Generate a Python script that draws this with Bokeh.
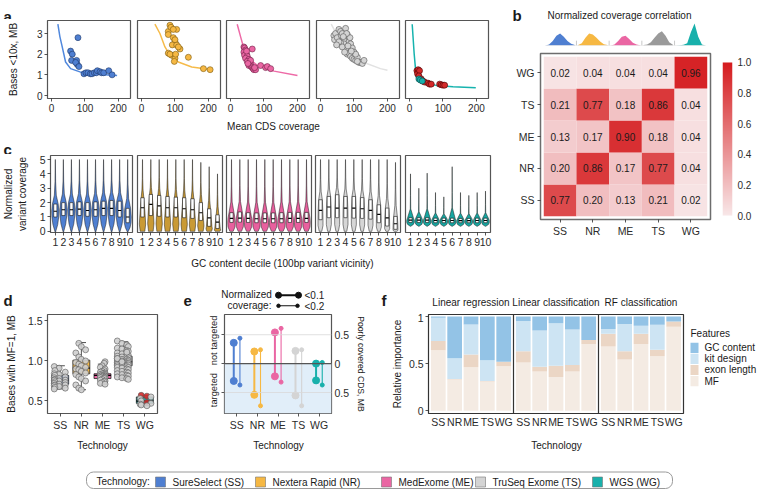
import numpy as np
from bokeh.plotting import figure
from bokeh.models import (Range1d, FixedTicker, LinearAxis, Span,
                          LinearColorMapper, ColumnDataSource)
from bokeh.layouts import row, column
from bokeh.embed import file_html
from bokeh.resources import INLINE
from bokeh.core.properties import value

FONT = "Liberation Sans"
TXT = "#1a1a1a"
AXC = "#2b2b2b"
FRAMEC = "#555555"
NB = "\u00a0"
LETTER = "15px"

# ---------------- shared categories ----------------
TECHS = ["SS", "NR", "ME", "TS", "WG"]
TECH_NAMES = ["SureSelect (SS)", "Nextera Rapid (NR)", "MedExome (ME)",
              "TruSeq Exome (TS)", "WGS (WG)"]
TECH_COLORS = ["#4f7fd1", "#f6b843", "#ea66a3", "#d4d4d4", "#18b0ab"]

# ---------------- panel a: bases <10x vs mean CDS coverage ----------------
a_ss_x = [57, 62, 60, 75, 77, 79, 72, 82, 97, 103, 109, 116, 121, 128, 134, 137, 145, 150, 156, 171, 181]
a_ss_y = [2.15, 2.0, 1.7, 1.7, 1.5, 2.8, 1.6, 1.4, 1.05, 1.1, 1.1, 1.05, 1.05, 1.1, 1.1, 1.2, 1.15, 1.1, 1.1, 1.2, 1.0]
a_ss_fit_x = [19, 25, 32, 42, 57, 87, 146, 196]
a_ss_fit_y = [3.45, 2.85, 2.35, 1.62, 1.3, 1.13, 1.02, 0.97]

a_nr_x = [85, 90, 80, 105, 80, 95, 100, 92, 105, 115, 80, 90, 100, 98, 140, 185, 205, 88, 95, 100, 110, 85, 102]
a_nr_y = [3.4, 3.25, 3.1, 3.2, 2.95, 2.8, 2.6, 2.45, 2.45, 2.25, 2.05, 1.95, 1.8, 1.65, 1.85, 1.3, 1.25, 3.3, 3.2, 2.7, 2.35, 2.0, 2.0]
a_nr_fit_x = [40, 55, 70, 85, 110, 150, 210]
a_nr_fit_y = [3.45, 3.0, 2.35, 1.95, 1.62, 1.38, 1.25]

a_me_x = [40, 42, 45, 40, 48, 42, 50, 45, 55, 50, 58, 60, 55, 62, 65, 68, 70, 75, 65, 90, 105, 110, 120, 60, 48, 52, 72]
a_me_y = [2.35, 2.3, 2.2, 2.1, 2.0, 1.95, 1.9, 1.8, 1.75, 1.65, 1.6, 1.5, 1.45, 1.4, 1.35, 1.3, 1.25, 1.25, 2.25, 1.45, 1.35, 1.4, 1.3, 1.7, 2.15, 1.55, 1.35]
a_me_fit_x = [20, 30, 40, 55, 80, 130, 200]
a_me_fit_y = [3.45, 2.85, 2.27, 1.78, 1.46, 1.18, 0.97]

a_ts_x = [40, 42, 45, 50, 55, 60, 62, 65, 70, 75, 80, 85, 90, 95, 70, 60, 75, 80, 85, 90, 95, 100, 105, 110,
          115, 120, 125, 65, 72, 100, 82, 88, 55, 48, 110, 130, 105, 92, 78, 68]
a_ts_y = [2.9, 2.7, 3.0, 2.8, 3.2, 3.1, 2.9, 3.0, 2.7, 3.25, 2.95, 2.6, 2.5, 2.3, 2.5, 2.55, 2.2, 2.0, 2.05, 1.9,
          1.8, 1.75, 1.7, 1.85, 1.6, 1.6, 1.55, 2.35, 2.1, 2.1, 2.4, 2.8, 2.6, 2.45, 1.65, 1.7, 2.0, 2.15, 3.0, 2.85]
a_ts_fit_x = [32, 52, 84, 126, 179, 200]
a_ts_fit_y = [3.45, 2.85, 2.2, 1.62, 1.3, 1.22]

a_wg_x = [22, 26, 24, 30, 28, 35, 40, 45, 55, 60, 65, 90, 95, 100, 105]
a_wg_y = [1.2, 1.25, 1.05, 1.2, 0.95, 0.8, 0.7, 0.65, 0.6, 0.55, 0.55, 0.55, 0.52, 0.5, 0.5]
a_wg_teal_x = [28, 32, 38]
a_wg_teal_y = [0.8, 0.75, 0.7]
a_wg_fit_x = [8, 14, 20, 30, 50, 80, 130, 198]
a_wg_fit_y = [3.45, 2.0, 0.9, 0.7, 0.58, 0.49, 0.42, 0.37]

# ---------------- panel b: correlation matrix ----------------
b_corr = [  # rows SS, NR, ME, TS, WG ; columns SS, NR, ME, TS, WG
    [0.77, 0.20, 0.13, 0.21, 0.02],
    [0.20, 0.86, 0.17, 0.77, 0.04],
    [0.13, 0.17, 0.90, 0.18, 0.04],
    [0.21, 0.77, 0.18, 0.86, 0.04],
    [0.02, 0.04, 0.04, 0.04, 0.96],
]
b_dens_ss = [0.0, 0.05, 0.2, 0.45, 0.55, 0.4, 0.2, 0.08, 0.02]
b_dens_nr = [0.02, 0.1, 0.35, 0.55, 0.5, 0.35, 0.18, 0.06, 0.02]
b_dens_me = [0.0, 0.05, 0.2, 0.4, 0.45, 0.3, 0.12, 0.04, 0.01]
b_dens_ts = [0.02, 0.05, 0.15, 0.35, 0.55, 0.65, 0.45, 0.15, 0.03]
b_dens_wg = [0.0, 0.01, 0.03, 0.1, 0.6, 1.0, 0.4, 0.05, 0.0]
b_ticks = [0.0, 0.2, 0.4, 0.6, 0.8, 1.0]

# ---------------- panel c: violins per GC decile ----------------
c_deciles = list(range(1, 11))
c_median = [
    [1.4, 1.5, 1.5, 1.55, 1.45, 1.5, 1.6, 1.6, 1.45, 1.0],
    [1.64, 1.88, 1.77, 1.64, 1.64, 1.57, 1.5, 1.29, 0.94, 0.64],
    [0.9, 0.92, 0.9, 0.88, 0.88, 0.88, 0.88, 0.9, 0.9, 0.9],
    [1.46, 1.69, 1.62, 1.62, 1.62, 1.57, 1.46, 1.18, 0.94, 0.53],
    [0.78, 0.78, 0.78, 0.76, 0.76, 0.76, 0.75, 0.75, 0.76, 0.76],
]
c_q1 = [
    [1.0, 1.1, 1.1, 1.1, 1.05, 1.05, 1.1, 1.1, 1.0, 0.6],
    [1.0, 1.1, 1.05, 1.0, 1.0, 0.95, 0.9, 0.76, 0.35, 0.2],
    [0.62, 0.64, 0.62, 0.6, 0.6, 0.6, 0.6, 0.62, 0.62, 0.62],
    [0.81, 0.95, 0.95, 0.95, 0.92, 0.9, 0.85, 0.6, 0.37, 0.14],
    [0.62, 0.62, 0.62, 0.6, 0.6, 0.6, 0.6, 0.6, 0.6, 0.6],
]
c_q3 = [
    [1.9, 2.0, 2.0, 2.05, 2.0, 2.05, 2.1, 2.15, 2.1, 1.6],
    [2.34, 2.57, 2.5, 2.43, 2.38, 2.34, 2.27, 2.0, 1.57, 1.15],
    [1.3, 1.35, 1.3, 1.28, 1.28, 1.28, 1.3, 1.32, 1.32, 1.32],
    [2.2, 2.43, 2.55, 2.43, 2.43, 2.35, 2.2, 1.85, 1.62, 1.04],
    [0.95, 0.95, 0.95, 0.92, 0.92, 0.92, 0.9, 0.9, 0.92, 0.92],
]
c_top = [
    [5.0, 5.0, 5.0, 5.0, 5.0, 5.0, 5.0, 5.0, 5.0, 5.0],
    [5.0, 5.0, 5.0, 5.0, 5.0, 5.0, 5.0, 4.8, 4.5, 4.0],
    [5.0, 5.0, 5.0, 5.0, 5.0, 5.0, 5.0, 5.0, 5.0, 5.0],
    [5.0, 5.0, 5.0, 5.0, 5.0, 5.0, 5.0, 5.0, 5.0, 4.8],
    [4.0, 3.0, 4.05, 2.7, 2.4, 4.5, 2.7, 2.5, 2.7, 2.8],
]
c_bottom = [-0.05, 0.0, 0.0, 0.0, 0.35]
# violin half-widths at: bottom, mid, q1, median, q3, upper1, upper2, top
c_shape = [
    [0.03, 0.3, 0.42, 0.45, 0.36, 0.12, 0.04, 0.005],
    [0.28, 0.38, 0.33, 0.25, 0.16, 0.07, 0.025, 0.005],
    [0.2, 0.42, 0.45, 0.42, 0.3, 0.08, 0.03, 0.005],
    [0.15, 0.3, 0.3, 0.28, 0.22, 0.08, 0.03, 0.005],
    [0.03, 0.35, 0.45, 0.45, 0.35, 0.03, 0.012, 0.004],
]
c_fill = ["#4f7fd1", "#c99a35", "#e8609e", "#d6d6d6", "#17a6a1"]

# ---------------- panel d: bases with MF=1 ----------------
d_ss = [0.93, 0.91, 0.88, 0.86, 0.84, 0.83, 0.82, 0.8, 0.79, 0.78, 0.77, 0.76, 0.76, 0.75, 0.74, 0.73,
        0.72, 0.71, 0.7, 0.7, 0.69, 0.68, 0.67, 0.66, 0.65]
d_nr = [1.22, 1.18, 1.14, 1.1, 1.05, 1.02, 1.0, 0.98, 0.96, 0.94, 0.92, 0.9, 0.89, 0.87, 0.85, 0.83,
        0.8, 0.78, 0.75, 0.7, 0.66, 0.64]
d_me = [0.99, 0.97, 0.94, 0.92, 0.9, 0.88, 0.87, 0.86, 0.85, 0.84, 0.84, 0.83, 0.83, 0.82, 0.82, 0.81,
        0.81, 0.8, 0.8, 0.79, 0.79, 0.78, 0.77, 0.76, 0.75, 0.74, 0.73, 0.72, 0.71]
d_ts = [1.25, 1.22, 1.2, 1.18, 1.16, 1.15, 1.13, 1.12, 1.1, 1.09, 1.08, 1.07, 1.06, 1.05, 1.05, 1.04,
        1.03, 1.02, 1.02, 1.01, 1.0, 1.0, 0.99, 0.99, 0.98, 0.98, 0.97, 0.97, 0.96, 0.96, 0.95, 0.95,
        0.94, 0.94, 0.93, 0.92, 0.92, 0.91, 0.9, 0.89, 0.88, 0.87, 0.86, 0.85, 0.84, 0.83, 0.82, 0.81,
        0.8, 0.79, 0.78, 0.77, 1.03, 0.99, 1.11]
d_wg = [0.57, 0.56, 0.55, 0.53, 0.5, 0.48, 0.47, 0.46, 0.45, 0.44]
d_wg_red = [True, True, False, False, False, True, False, False, False, False]
d_q1 = [0.71, 0.84, 0.78, 0.94, 0.47]
d_med = [0.76, 0.91, 0.82, 0.99, 0.50]
d_q3 = [0.82, 1.01, 0.84, 1.06, 0.55]
d_lo = [0.65, 0.64, 0.71, 0.78, 0.44]
d_hi = [0.94, 1.23, 0.96, 1.24, 0.57]
JITTER = [-0.28, 0.05, 0.22, -0.12, 0.3, -0.22, 0.12, -0.05, 0.26, -0.3, 0.0, 0.17, -0.17, 0.08,
          -0.25, 0.28, -0.08, 0.2, -0.2, 0.1, -0.02, 0.24, -0.14, 0.15, -0.26, 0.03, 0.29, -0.1]

# ---------------- panel e: poorly covered CDS ----------------
e_nottarg_01 = [0.36, 0.21, 0.54, 0.22, 0.0]
e_targ_01 = [0.30, 0.54, 0.22, 0.55, 0.29]
e_nottarg_02 = [0.44, 0.24, 0.61, 0.24, 0.02]
e_targ_02 = [0.37, 0.73, 0.32, 0.73, 0.37]

# ---------------- panel f: feature importance ----------------
f_models = ["Linear regression", "Linear classification", "RF classification"]
f_features = ["GC content", "kit design", "exon length", "MF"]
f_feat_colors = ["#93c3e6", "#cde4f3", "#ebd6c5", "#f4ebe3"]
f_mf = [0.64, 0.33, 0.46, 0.31, 0.47, 0.51, 0.415, 0.357, 0.415, 0.707, 0.68, 0.544, 0.707, 0.578, 0.89]
f_exon = [0.10, 0.005, 0.135, 0.005, 0.05, 0.12, 0.05, 0.12, 0.07, 0.043, 0.135, 0.086, 0.11, 0.068, 0.056]
f_kit = [0.245, 0.22, 0.32, 0.22, 0.0, 0.32, 0.385, 0.45, 0.375, 0.0, 0.05, 0.288, 0.083, 0.264, 0.0]
f_gc = [0.015, 0.445, 0.085, 0.465, 0.48, 0.05, 0.15, 0.073, 0.14, 0.25, 0.135, 0.082, 0.10, 0.09, 0.054]


# =============== helpers ===============
def mkfig(X0, Y0, W, H, FX, FY, FW, FH, xr, yr, outline=FRAMEC, ow=1.2):
    L = FX - X0
    T = FY - Y0
    p = figure(width=W, height=H, x_range=Range1d(*xr), y_range=Range1d(*yr),
               output_backend="svg", toolbar_location=None, tools="",
               x_axis_location=None, y_axis_location=None,
               min_border_left=L, min_border_top=T,
               min_border_right=W - L - FW, min_border_bottom=H - T - FH)
    p.grid.visible = False
    p.outline_line_color = outline
    p.outline_line_width = ow
    p.border_fill_color = "white"
    p.background_fill_color = "white"
    return p


def textfig(X0, Y0, W, H, L=0, T=0, R=0, B=0):
    # a figure whose data coordinates are page pixels (y negated)
    p = figure(width=W, height=H, x_range=Range1d(X0 + L, X0 + W - R),
               y_range=Range1d(-(Y0 + H - B), -(Y0 + T)),
               output_backend="svg", toolbar_location=None, tools="",
               x_axis_location=None, y_axis_location=None,
               min_border_left=L, min_border_right=R, min_border_top=T, min_border_bottom=B)
    p.grid.visible = False
    p.outline_line_color = None
    p.border_fill_color = "white"
    p.background_fill_color = "white"
    return p


def tx(p, X, Y, text, size="10px", bold=False, align="left", baseline="middle", color=TXT):
    p.text(x=[X], y=[-Y], text=[text], text_font=value(FONT), text_font_size=value(size),
           text_font_style=value("bold" if bold else "normal"), text_align=value(align),
           text_baseline=value(baseline), text_color=color)


def axis(p, loc, ticks, labels, size="10px", out=3, standoff=2, label=None, lstand=5, lsize="10px"):
    ticks = list(ticks)
    ax = LinearAxis(ticker=FixedTicker(ticks=ticks))
    ax.axis_line_color = None
    ax.major_tick_out = out
    ax.major_tick_in = 0
    ax.minor_tick_out = 0
    ax.minor_tick_in = 0
    ax.major_tick_line_color = AXC if out > 0 else None
    ax.major_tick_line_width = 0.8
    ax.major_label_standoff = standoff
    ax.major_label_text_font = FONT
    ax.major_label_text_font_size = size
    ax.major_label_text_color = AXC
    ax.major_label_overrides = {t: l for t, l in zip(ticks, labels)}
    if label is not None:
        ax.axis_label = label
        ax.axis_label_text_font = FONT
        ax.axis_label_text_font_size = lsize
        ax.axis_label_text_font_style = "normal"
        ax.axis_label_text_color = TXT
        ax.axis_label_standoff = lstand
    p.add_layout(ax, loc)
    return ax


def heat_color(v):
    lo = (248, 231, 232)
    hi = (213, 27, 30)
    return "#%02x%02x%02x" % tuple(int(round(l + (h - l) * v)) for l, h in zip(lo, hi))


# =============== top-left strips ===============
strip0 = textfig(0, 0, 500, 19)
tx(strip0, 3, 15.5, "a", size=LETTER, bold=True, baseline="alphabetic")

strip_a = textfig(0, 116, 500, 38)
tx(strip_a, 273, 126, "Mean CDS coverage", align="center")
tx(strip_a, 3, 149, "c", size=LETTER, bold=True, baseline="alphabetic")

strip_c = textfig(0, 252, 500, 33)
tx(strip_c, 282, 263, "GC content decile (100bp variant vicinity)", align="center")

# =============== panel a ===============
A_FIGX = [0, 133, 223, 312, 402, 500]
A_FX = [47, 137, 226, 316, 405]
a_pts = [(a_ss_x, a_ss_y), (a_nr_x, a_nr_y), (a_me_x, a_me_y), (a_ts_x, a_ts_y), (a_wg_x, a_wg_y)]
a_fit = [(a_ss_fit_x, a_ss_fit_y), (a_nr_fit_x, a_nr_fit_y), (a_me_fit_x, a_me_fit_y),
         (a_ts_fit_x, a_ts_fit_y), (a_wg_fit_x, a_wg_fit_y)]
a_pt_fill = ["#4f7fd1", "#f6b843", "#ea66a3", "#d4d4d4", "#d42a2a"]
a_pt_line = ["#1d3566", "#7a5a12", "#6e1f45", "#555555", "#4a0000"]
a_fit_col = ["#5088dd", "#f6bb4a", "#ee6aa7", "#e2e2e2", "#16b3ae"]

a_figs = []
for i in range(5):
    p = mkfig(A_FIGX[i], 19, A_FIGX[i + 1] - A_FIGX[i], 97, A_FX[i], 20, 83, 78, (-12, 236), (-0.145, 3.63))
    p.line(a_fit[i][0], a_fit[i][1], line_color=a_fit_col[i], line_width=1.5)
    p.scatter(a_pts[i][0], a_pts[i][1], size=6, fill_color=a_pt_fill[i], line_color=a_pt_line[i], line_width=0.6)
    if i == 4:
        p.scatter(a_wg_teal_x, a_wg_teal_y, size=6, fill_color="#18b0ab", line_color="#0b4d4b", line_width=0.6)
    axis(p, "below", [0, 100, 200], ["0", "100", "200"])
    if i == 0:
        axis(p, "left", [0, 1, 2, 3], ["0", "1", "2", "3"], label="Bases <10x, MB", lstand=15)
    a_figs.append(p)

# =============== panel c ===============
C_FIGX = [0, 134, 224, 313, 402, 500]
C_FX = [47, 137, 226, 315, 405]
c_figs = []
for i in range(5):
    p = mkfig(C_FIGX[i], 154, C_FIGX[i + 1] - C_FIGX[i], 98, C_FX[i], 155, 85, 77, (0.4, 10.6), (-0.08, 5.28))
    xs_all, ys_all = [], []
    for j, d in enumerate(c_deciles):
        bot, q1, md, q3, top = c_bottom[i], c_q1[i][j], c_median[i][j], c_q3[i][j], c_top[i][j]
        kn = [bot, (bot + q1) / 2, q1, md, q3, q3 + 0.2 * (top - q3), q3 + 0.5 * (top - q3), top]
        w = c_shape[i]
        xs_all.append([d + v for v in w] + [d - v for v in w[::-1]])
        ys_all.append(kn + kn[::-1])
    p.patches(xs_all, ys_all, fill_color=c_fill[i], line_color="#1a1a1a", line_width=0.5)
    cx = np.array(c_deciles, dtype=float)
    p.quad(left=cx - 0.2, right=cx + 0.2, bottom=c_q1[i], top=c_q3[i], fill_color="white",
           line_color="#111111", line_width=0.6)
    p.segment(cx - 0.2, c_median[i], cx + 0.2, c_median[i], line_color="#000000", line_width=1.1)
    axis(p, "below", c_deciles, [str(d) for d in c_deciles], size="10.5px")
    if i == 0:
        axis(p, "left", [0, 1, 2, 3, 4, 5], ["0", "1", "2", "3", "4", "5"], size="10.5px",
             label="Normalized\nvariant coverage", lstand=9)
    c_figs.append(p)

# =============== panel b ===============
strip_b = textfig(500, 0, 258, 21)
tx(strip_b, 512, 15, "b", size=LETTER, bold=True, baseline="alphabetic")
tx(strip_b, 619, 15, "Normalized coverage correlation", align="center")

# density strip: frame spans the full width; x range chosen so columns sit over the heatmap
dens = mkfig(500, 21, 258, 29, 500, 22, 258, 23, (-0.8236, 7.0683), (0, 1.05), outline=None)
dens_cols = ["#4f7fd1", "#f6b843", "#ea66a3", "#9a9a9a", "#18b0ab"]
for i, dv in enumerate([b_dens_ss, b_dens_nr, b_dens_me, b_dens_ts, b_dens_wg]):
    xs = list(np.linspace(i + 0.55, i + 1.45, len(dv)))
    dens.patch(xs + [xs[-1], xs[0]], list(dv) + [0, 0], fill_color=dens_cols[i], line_color=None)
dens.segment([1.5, 2.5, 3.5, 4.5], [0, 0, 0, 0], [1.5, 2.5, 3.5, 4.5], [0.22, 0.22, 0.22, 0.22],
             line_color="#bbbbbb", line_width=0.8)
dens.segment([0.55], [0], [5.45], [0], line_color="#cccccc", line_width=0.6)

heat = mkfig(500, 50, 215, 235, 540, 53, 170, 166, (0.4, 5.6), (0.4, 5.6), outline="#6d6d6d", ow=1.5)
hx, hy, hc, ht = [], [], [], []
for r in range(5):
    for c in range(5):
        hx.append(c + 1)
        hy.append(r + 1)
        hc.append(heat_color(b_corr[r][c]))
        ht.append("%.2f" % b_corr[r][c])
heat.rect(x=hx, y=hy, width=1, height=1, fill_color=hc, line_color=None)
heat.text(x=hx, y=hy, text=ht, text_font=value(FONT), text_font_size=value("10px"),
          text_align="center", text_baseline="middle", text_color="#1a1a1a")
axis(heat, "below", [1, 2, 3, 4, 5], TECHS, size="10.5px")
axis(heat, "left", [1, 2, 3, 4, 5], TECHS, size="10.5px", standoff=3)

# colour bar: same top/bottom borders as the heatmap (row alignment), bar from y=62 to y=215
cbar = mkfig(715, 50, 43, 235, 722, 53, 10, 166, (0, 1), (-0.0261, 1.0588), outline=None)
pal = [heat_color(t) for t in np.linspace(0, 1, 256)]
cbar.image(image=[np.linspace(0, 1, 256).reshape(256, 1)], x=0, y=0, dw=1, dh=1,
           color_mapper=LinearColorMapper(palette=pal, low=0, high=1))
axis(cbar, "right", b_ticks, ["%.1f" % t for t in b_ticks], out=0, standoff=5)

# =============== bottom row: top strip (letters, facet titles, e legend) ===============
strip_t2 = textfig(0, 285, 758, 28)
tx(strip_t2, 3, 300, "d", size=LETTER, bold=True, baseline="alphabetic")
tx(strip_t2, 183, 300, "e", size=LETTER, bold=True, baseline="alphabetic")
tx(strip_t2, 381, 300, "f", size=LETTER, bold=True, baseline="alphabetic")
for k, m in enumerate(f_models):
    tx(strip_t2, 428 + 85 * k + 42.5, 302, m, align="center")
tx(strip_t2, 246, 294, "Normalized", align="center")
tx(strip_t2, 249, 305, "coverage:", align="center")
strip_t2.segment([278], [-294.7], [298], [-294.7], line_color="#111111", line_width=2)
strip_t2.scatter([278, 298], [-294.7, -294.7], size=6, color="#111111")
strip_t2.segment([278], [-305.3], [297], [-305.3], line_color="#111111", line_width=1.1)
strip_t2.scatter([278, 297], [-305.3, -305.3], size=3.5, color="#111111")
tx(strip_t2, 304, 295, "<0.1")
tx(strip_t2, 304, 305.5, "<0.2")

# =============== panel d ===============
dfig = mkfig(0, 313, 180, 120, 47, 314, 110, 101, (0.4, 5.6), (0.343, 1.581))
dx = np.arange(1, 6, dtype=float)
dfig.segment(dx, d_q3, dx, d_hi, line_color="#222222", line_width=0.8)
dfig.segment(dx, d_lo, dx, d_q1, line_color="#222222", line_width=0.8)
dfig.segment(dx - 0.22, d_hi, dx + 0.22, d_hi, line_color="#222222", line_width=0.8)
dfig.segment(dx - 0.22, d_lo, dx + 0.22, d_lo, line_color="#222222", line_width=0.8)
dfig.quad(left=dx - 0.4, right=dx + 0.4, bottom=d_q1, top=d_q3, fill_color=TECH_COLORS,
          line_color="#222222", line_width=0.8)
dfig.segment(dx - 0.4, d_med, dx + 0.4, d_med, line_color="#000000", line_width=1.4)
for i, vals in enumerate([d_ss, d_nr, d_me, d_ts, d_wg]):
    xs = [i + 1 + JITTER[(k * 7 + i * 3) % len(JITTER)] for k in range(len(vals))]
    if i == 4:
        fills = ["#d42a2a" if r else "#cfcfcf" for r in d_wg_red]
    else:
        fills = ["#cfcfcf"] * len(vals)
    dfig.scatter(xs, vals, size=6, fill_color=fills, line_color="#555555", line_width=0.6, fill_alpha=0.9)
axis(dfig, "below", [1, 2, 3, 4, 5], TECHS, size="10.5px")
axis(dfig, "left", [0.5, 1.0, 1.5], ["0.5", "1.0", "1.5"], size="10.5px",
     label="Bases with MF=1, MB", lstand=8)

# =============== panel e ===============
efig = mkfig(180, 313, 200, 120, 224, 314, 107, 101, (0.4, 5.6), (-0.863, 0.85))
ex = np.arange(1, 6, dtype=float)
efig.quad(left=[0.4], right=[5.6], bottom=[-0.863], top=[0], fill_color="#e1eef9", line_color=None)
for loc in [0.5, -0.5]:
    efig.add_layout(Span(location=loc, dimension="width", line_color="#d8d8d8", line_width=0.8))
efig.add_layout(Span(location=0, dimension="width", line_color="#555555", line_width=1.3))
for top, bot, off, lw, sz in [(e_nottarg_01, e_targ_01, -0.15, 2.0, 7),
                              (e_nottarg_02, e_targ_02, 0.15, 1.1, 4)]:
    xs = ex + off
    neg = [-v for v in bot]
    efig.segment(xs, top, xs, neg, line_color=TECH_COLORS, line_width=lw)
    efig.scatter(xs, top, size=sz, fill_color=TECH_COLORS, line_color=TECH_COLORS)
    efig.scatter(xs, neg, size=sz, fill_color=TECH_COLORS, line_color=TECH_COLORS)
axis(efig, "below", [1, 2, 3, 4, 5], TECHS, size="10.5px")
axis(efig, "left", [-0.5, 0, 0.5], ["", "", ""],
     label=NB * 2 + "targeted" + NB * 3 + "not targeted", lstand=3, lsize="9.3px")
axis(efig, "right", [-0.5, 0, 0.5], ["0.5", "0", "0.5"], size="10.5px", out=0, standoff=3,
     label="Poorly covered CDS, MB", lstand=4, lsize="8.6px")

# =============== panel f ===============
ffig = mkfig(380, 313, 306, 120, 428, 314, 255, 101, (0, 15.6), (-0.03, 1.02), outline="#333333")
fx = [k * 5.2 + 0.6 + i for k in range(3) for i in range(5)]
src = ColumnDataSource(dict(x=fx, mf=f_mf, exon=f_exon, kit=f_kit, gc=f_gc))
ffig.vbar_stack(["mf", "exon", "kit", "gc"], x="x", width=0.9, source=src,
                color=[f_feat_colors[3], f_feat_colors[2], f_feat_colors[1], f_feat_colors[0]], line_color=None)
for loc in [5.2, 10.4]:
    ffig.add_layout(Span(location=loc, dimension="height", line_color="#333333", line_width=1.2))
axis(ffig, "below", fx, TECHS * 3, size="10.5px", out=0)
axis(ffig, "left", [0, 0.5, 1], ["0", "0.5", "1"], size="10.5px", label="Relative importance", lstand=3)

f_leg = textfig(686, 313, 72, 120, T=1, B=18)
tx(f_leg, 690, 333, "Features")
for k, (name, col) in enumerate(zip(f_features, f_feat_colors)):
    yc = 348 + 11.3 * k
    f_leg.quad(left=[690], right=[698], top=[-(yc - 5.2)], bottom=[-(yc + 5.2)], fill_color=col, line_color=None)
    tx(f_leg, 704, yc, name)

strip_b2 = textfig(0, 433, 758, 22)
tx(strip_b2, 102, 445, "Technology", align="center")
tx(strip_b2, 278, 445, "Technology", align="center")
tx(strip_b2, 556, 445, "Technology", align="center")

# =============== bottom legend ===============
leg = textfig(0, 455, 758, 35)
try:
    leg.quad(left=[86], right=[672], top=[-471.5], bottom=[-488], fill_color=None,
             line_color="#9a9a9a", line_width=1, border_radius=7)
except Exception:
    leg.quad(left=[86], right=[672], top=[-471.5], bottom=[-488], fill_color=None,
             line_color="#9a9a9a", line_width=1)
tx(leg, 96, 481, "Technology:")
sw_x = [155, 255, 381, 475, 592]
for k in range(5):
    leg.quad(left=[sw_x[k]], right=[sw_x[k] + 10], top=[-476.5], bottom=[-486.5],
             fill_color=TECH_COLORS[k], line_color="#777777", line_width=0.6)
    tx(leg, sw_x[k] + 17, 481.5, TECH_NAMES[k])

# =============== layout ===============
left_col = column(strip0, row(*a_figs), strip_a, row(*c_figs), strip_c)
right_col = column(strip_b, dens, row(heat, cbar))
root = column(
    row(left_col, right_col),
    strip_t2,
    row(dfig, efig, ffig, f_leg),
    strip_b2,
    leg,
)

open("out.html", "w").write(file_html(root, INLINE))
